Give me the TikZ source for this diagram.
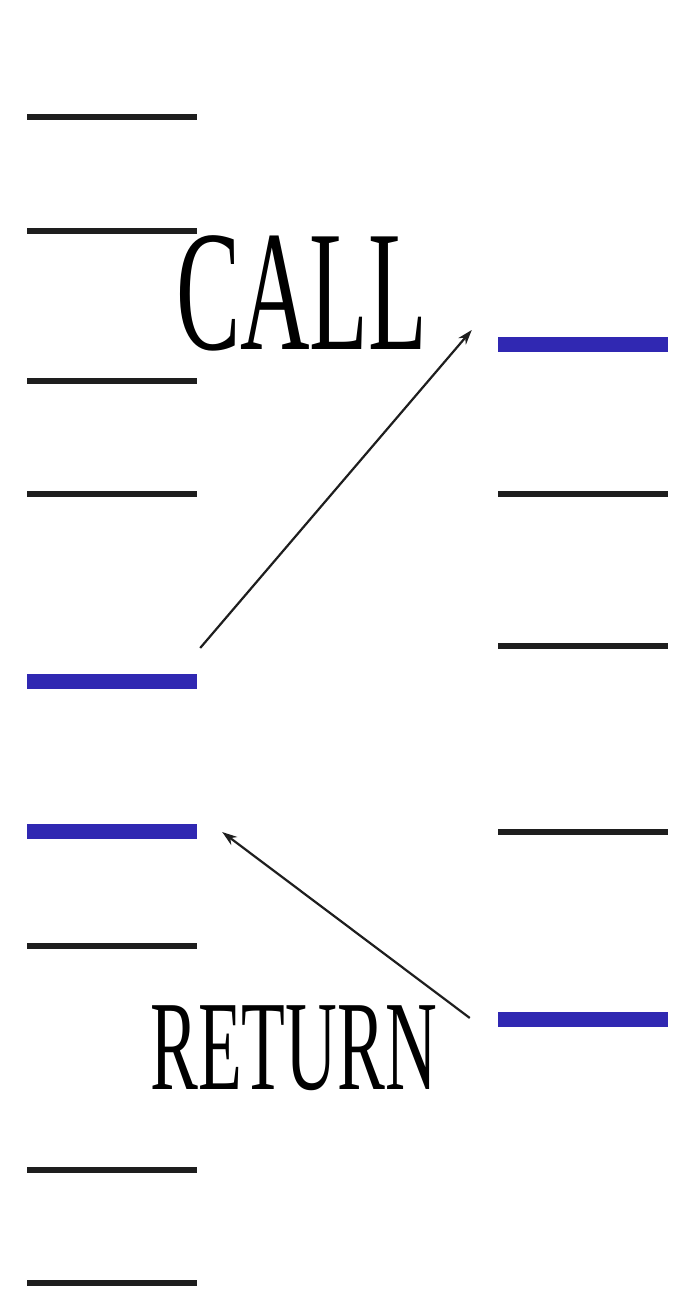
\documentclass[tikz,border=0pt]{standalone}
\usepackage{fontspec}
\usepackage{tikz}
\usetikzlibrary{arrows.meta, positioning, calc}
\newfontfamily\labelfont[FakeStretch=0.56]{Liberation Serif}
\definecolor{stackblue}{RGB}{48,40,178}
\definecolor{stackgray}{RGB}{30,30,30}

\begin{document}
\begin{tikzpicture}[
    x=1pt, y=1pt,
    slot/.style={draw=none, fill=stackgray, minimum width=170pt, minimum height=5.5pt, inner sep=0pt},
    active/.style={draw=none, fill=stackblue, minimum width=170pt, minimum height=15pt, inner sep=0pt},
    jump/.style={-{Stealth[length=15pt, width=10pt]}, line width=2.2pt, stackgray},
    word/.style={font=\labelfont, inner sep=0pt, anchor=base west}
]
    \useasboundingbox (0,0) rectangle (680,1296);

    % Left memory column
    \node[slot] (l1) at (112,1179) {};
    \node[slot] (l2) at (112,1065) {};
    \node[slot] (l3) at (112,915) {};
    \node[slot] (l4) at (112,802) {};
    \node[active] (l5) at (112,614) {};
    \node[active] (l6) at (112,464) {};
    \node[slot] (l7) at (112,350) {};
    \node[slot] (l8) at (112,126) {};
    \node[slot] (l9) at (112,13) {};

    % Right memory column
    \node[active] (r1) at (583,951) {};
    \node[slot] (r2) at (583,802) {};
    \node[slot] (r3) at (583,650) {};
    \node[slot] (r4) at (583,464) {};
    \node[active] (r5) at (583,276) {};

    % Labels
    \node[word, font=\labelfont\fontsize{172}{172}\selectfont] (call) at (176,946) {CALL};
    \node[word, font=\labelfont\fontsize{128}{128}\selectfont] (ret) at (150,206) {RETURN};

    % Jumps
    \coordinate (callfrom) at ($(l5.east)+(3,34)$);
    \coordinate (callto) at ($(r1.west)+(-26,15)$);
    \coordinate (retfrom) at ($(r5.west)+(-28,2)$);
    \coordinate (retto) at ($(l6.east)+(25,0)$);
    \draw[jump] (callfrom) -- (callto);
    \draw[jump] (retfrom) -- (retto);
\end{tikzpicture}
\end{document}
